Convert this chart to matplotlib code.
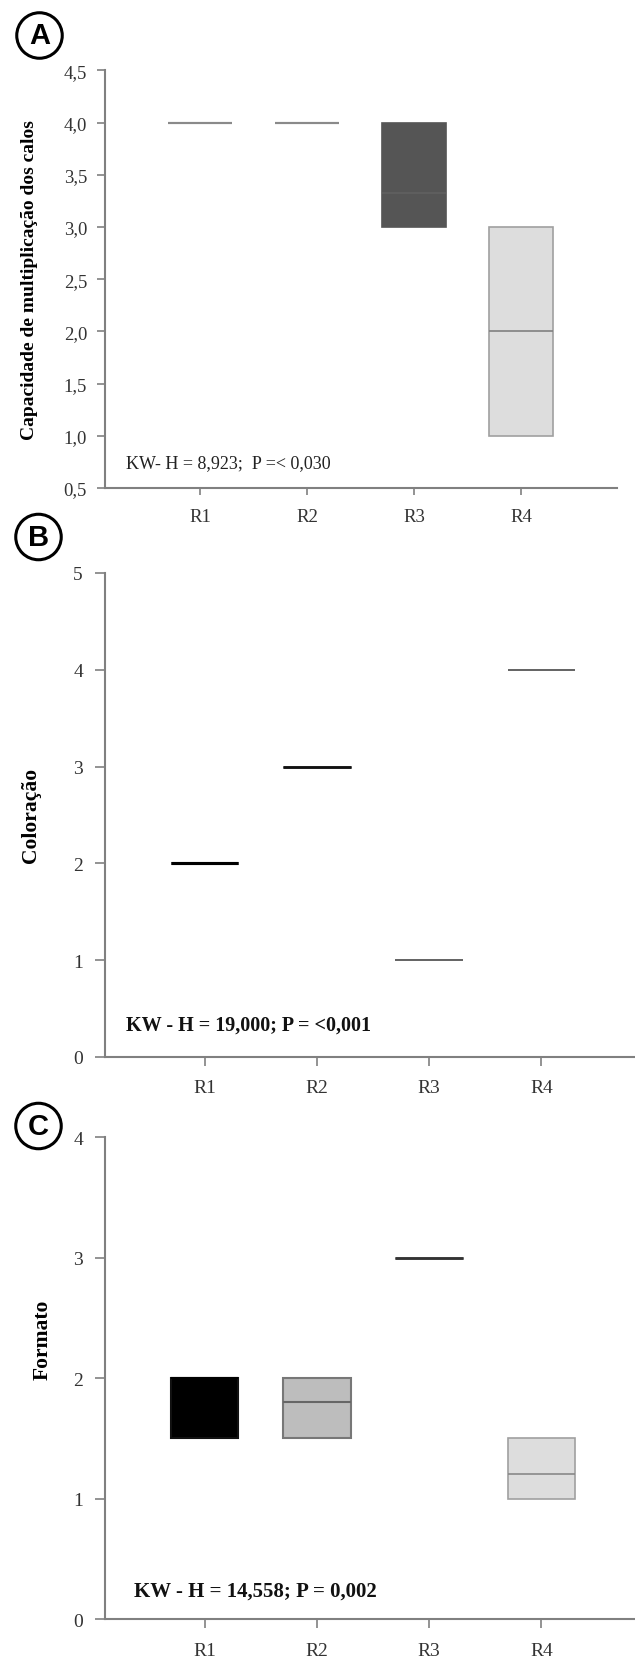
import numpy as np
import matplotlib
matplotlib.use("Agg")
import matplotlib.pyplot as plt

plt.rcParams['font.family'] = ['Liberation Serif', 'DejaVu Serif']

grupos = ['R1', 'R2', 'R3', 'R4']

# A - capacidade de multiplicação dos calos
a_q1 = [4.0, 4.0, 3.0, 1.0]
a_med = [4.0, 4.0, 3.33, 2.0]
a_q3 = [4.0, 4.0, 4.0, 3.0]
a_txt = 'KW- H = 8,923;  P =< 0,030'

# B - coloração
b_q1 = [2, 3, 1, 4]
b_med = [2, 3, 1, 4]
b_q3 = [2, 3, 1, 4]
b_txt = 'KW - H = 19,000; P = <0,001'

# C - formato
c_q1 = [1.5, 1.5, 3.0, 1.0]
c_med = [2.0, 1.8, 3.0, 1.2]
c_q3 = [2.0, 2.0, 3.0, 1.5]
c_txt = 'KW - H = 14,558; P = 0,002'

AXCOL = '#808080'


def caixas(ax, q1, med, q3, faces, edges, meds, lws):
    stats = [dict(q1=a, med=m, q3=b, whislo=a, whishi=b, label=g)
             for a, m, b, g in zip(q1, med, q3, grupos)]
    bp = ax.bxp(stats, positions=range(1, 5), widths=0.6, showcaps=False,
                showfliers=False, patch_artist=True)
    for i, box in enumerate(bp['boxes']):
        box.set_facecolor(faces[i])
        box.set_edgecolor(edges[i])
        box.set_linewidth(lws[i])
        bp['medians'][i].set_color(meds[i])
        bp['medians'][i].set_linewidth(lws[i])
    for w in bp['whiskers']:
        w.set_visible(False)


def estilo(ax, ytick_len, xtick_len, ypad, xpad, fs):
    for s in ['top', 'right']:
        ax.spines[s].set_visible(False)
    for s in ['left', 'bottom']:
        ax.spines[s].set_color(AXCOL)
        ax.spines[s].set_linewidth(1.5)
    ax.tick_params(axis='y', direction='out', length=ytick_len, width=1.2,
                   color=AXCOL, labelcolor='#333333', labelsize=fs, pad=ypad)
    ax.tick_params(axis='x', direction='out', length=xtick_len, width=1.2,
                   color=AXCOL, labelcolor='#333333', labelsize=fs, pad=xpad)
    ax.set_xticks(range(1, 5))
    ax.set_xticklabels(grupos)


fig = plt.figure(figsize=(6.35, 16.65), dpi=100)

# painel A
axA = fig.add_axes([0.1646, 0.7063, 0.8071, 0.2508])
caixas(axA, a_q1, a_med, a_q3,
       ['#9a9a9a', '#9a9a9a', '#555555', '#dddddd'],
       ['#8a8a8a', '#8a8a8a', '#555555', '#a0a0a0'],
       ['#8a8a8a', '#8a8a8a', '#606060', '#808080'],
       [1.5, 1.5, 1.2, 1.2])
axA.set_ylim(0.5, 4.5)
axA.set_xlim(0.1075, 4.897)
axA.set_yticks(np.arange(0.5, 4.51, 0.5))
axA.set_yticklabels([f'{v:.1f}'.replace('.', ',') for v in np.arange(0.5, 4.51, 0.5)])
estilo(axA, 5.8, 5, 6.8, 9.5, 13.5)
axA.set_ylabel('Capacidade de multiplicação dos calos', fontsize=14,
               fontweight='bold')
axA.yaxis.set_label_coords(-0.129, 0.5)
axA.text(0.041, 0.062, a_txt, transform=axA.transAxes, fontsize=13,
         va='center', ha='left', color='#222222')

# painel B
axB = fig.add_axes([0.1646, 0.3646, 0.8354, 0.2907])
caixas(axB, b_q1, b_med, b_q3,
       ['black', 'black', '#666666', '#666666'],
       ['black', '#111111', '#666666', '#666666'],
       ['black', '#111111', '#666666', '#666666'],
       [2.2, 1.8, 1.4, 1.4])
axB.set_ylim(0, 5)
axB.set_xlim(0.1095, 4.833)
axB.set_yticks(range(0, 6))
estilo(axB, 7.5, 6.5, 8, 9.7, 14)
axB.set_ylabel('Coloração', fontsize=15.5, fontweight='bold')
axB.yaxis.set_label_coords(-0.1206, 0.5)
axB.text(0.0396, 0.067, b_txt, transform=axB.transAxes, fontsize=14.5,
         fontweight='bold', va='center', ha='left', color='#111111')

# painel C
axC = fig.add_axes([0.1646, 0.0270, 0.8354, 0.2895])
caixas(axC, c_q1, c_med, c_q3,
       ['black', '#bdbdbd', '#333333', '#dddddd'],
       ['#111111', '#777777', '#333333', '#a0a0a0'],
       ['black', '#666666', '#333333', '#888888'],
       [1.5, 1.5, 1.8, 1.2])
axC.set_ylim(0, 4)
axC.set_xlim(0.1095, 4.833)
axC.set_yticks(range(0, 5))
estilo(axC, 7.5, 6.5, 8, 10, 14)
axC.set_ylabel('Formato', fontsize=15.5, fontweight='bold')
axC.yaxis.set_label_coords(-0.098, 0.582)
axC.text(0.055, 0.058, c_txt, transform=axC.transAxes, fontsize=15,
         fontweight='bold', va='center', ha='left', color='#111111')

# letras dos painéis
for letra, (px, py) in zip('ABC', [(39.5, 36.5), (38.5, 538), (38.5, 1127)]):
    fig.text(px / 635, 1 - py / 1665, letra, fontsize=21, fontweight='bold',
             family=['Liberation Sans', 'DejaVu Sans'], ha='center', va='center',
             bbox=dict(boxstyle='circle,pad=0.3', fc='white', ec='black', lw=2.2))

fig.savefig('out.png', dpi=100)
